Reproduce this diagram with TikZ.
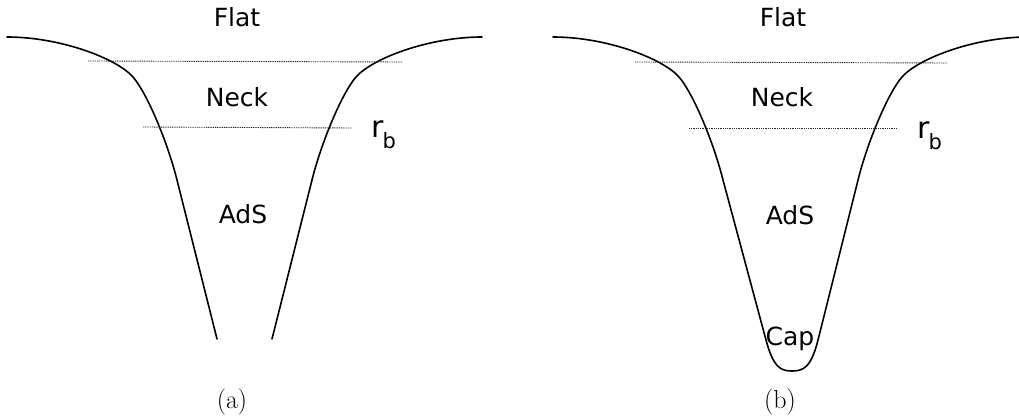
\documentclass[tikz,border=0pt]{standalone}
\usepackage{fontspec}
\newfontfamily\dejavu{DejaVu Sans}
\begin{document}
\begin{tikzpicture}[x=1pt,y=-1pt,
  curve/.style={line width=1.6pt, line join=round, line cap=round},
  level/.style={line width=0.9pt, dash pattern=on 1pt off 0.8pt, black!85},
  lbl/.style={font=\dejavu\fontsize{25}{25}\selectfont, anchor=base, inner sep=0pt},
  rblbl/.style={font=\dejavu\fontsize{30}{30}\selectfont, anchor=base west, inner sep=0pt},
  captxt/.style={font=\fontsize{26}{26}\selectfont, anchor=base, inner sep=0pt}]
\useasboundingbox (0,0) rectangle (1019,419);

% ---------- panel (a) ----------
\draw[curve] (7,37) .. controls (60,37) and (116.5,58.25) .. (133,77)
  .. controls (146.2,92) and (167,140) .. (177,180) -- (217,339);
\draw[curve] (272,339) -- (312,180) .. controls (322,140) and (342.8,92) .. (356,77)
  .. controls (372.5,58.25) and (429,37) .. (482,37);
\draw[level] (88,61) -- (402,62);
\draw[level] (143,127) -- (352,128);
\node[lbl] (flata) at (237,27) {Flat};
\node[lbl] (necka) at (237,107) {Neck};
\node[lbl] (adsa) at (243,224) {AdS};
\node[rblbl] (rba) at (371,138) {r\kern-1pt\raisebox{-11pt}{\fontsize{21}{21}\selectfont b}};
\node[captxt] (capa) at (232,408) {(a)};

% ---------- panel (b) ----------
\draw[curve] (553,37) .. controls (606,37) and (662.5,58.25) .. (679,77)
  .. controls (692.2,92) and (713,140) .. (723,180)
  -- (766,340) .. controls (773.5,368) and (781,371) .. (792,371)
  .. controls (803,371) and (811,368) .. (818,340)
  -- (858,180) .. controls (868,140) and (888.8,92) .. (902,77)
  .. controls (918.5,58.25) and (975,37) .. (1028,37);
\draw[level] (635,62) -- (947,63);
\draw[level] (689,128) -- (897,128);
\node[lbl] (flatb) at (783,27) {Flat};
\node[lbl] (neckb) at (782,107) {Neck};
\node[lbl] (adsb) at (790,225) {AdS};
\node[lbl] (capb) at (790,345) {Cap};
\node[rblbl] (rbb) at (917,139) {r\kern-1pt\raisebox{-11pt}{\fontsize{21}{21}\selectfont b}};
\node[captxt] (capbl) at (780,408) {(b)};
\end{tikzpicture}
\end{document}
